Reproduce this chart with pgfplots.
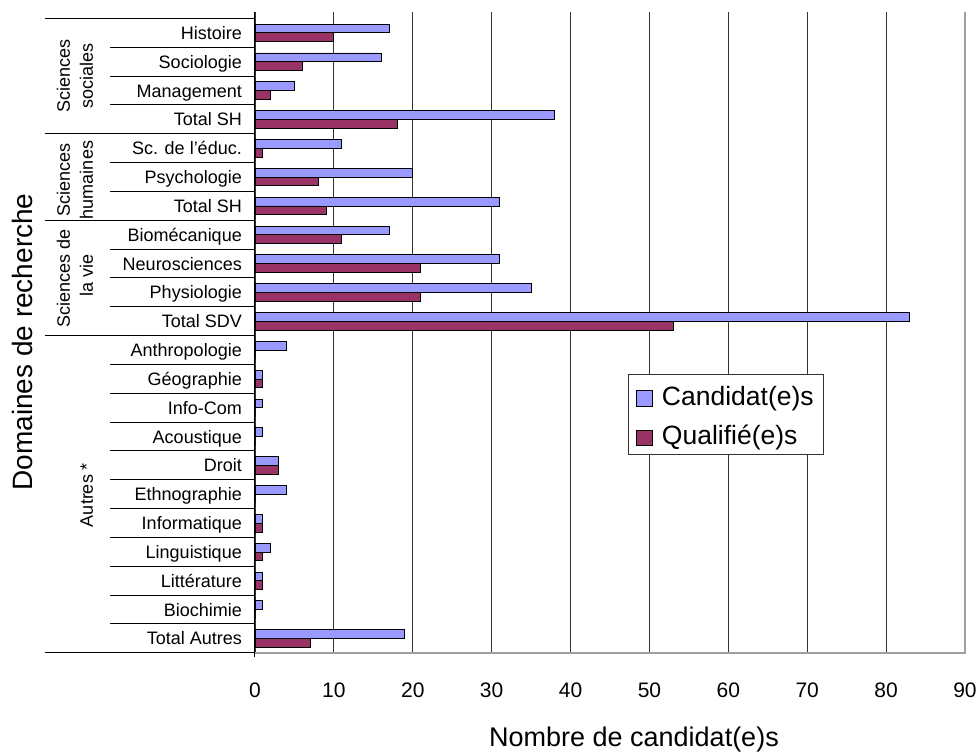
\documentclass[border=0pt]{standalone}
\usepackage{fontspec}
\setmainfont{Liberation Sans}
\usepackage{pgfplots}
\pgfplotsset{compat=1.18}

\definecolor{cand}{HTML}{9999FF}
\definecolor{qual}{HTML}{993366}
\definecolor{gridc}{HTML}{333333}
\definecolor{framec}{HTML}{A0A0A0}

\begin{document}
\begin{tikzpicture}[x=1pt,y=1pt]
\begin{axis}[
  width=710pt, height=641pt, scale only axis,
  xbar, bar width=8.8pt,
  xmin=0, xmax=90, ymin=-0.726, ymax=21.5, y dir=reverse,
  xtick={0,10,...,90},
  ytick={0,...,21},
  yticklabels={Histoire,Sociologie,Management,Total SH,Sc. de l’éduc.,Psychologie,Total SH,
    Biomécanique,Neurosciences,Physiologie,Total SDV,Anthropologie,Géographie,Info-Com,
    Acoustique,Droit,Ethnographie,Informatique,Linguistique,Littérature,Biochimie,Total Autres},
  /pgf/number format/assume math mode=true,
  axis line style={draw=none},
  major tick length=0pt,
  xmajorgrids, major grid style={gridc, line width=0.8pt},
  xticklabel style={font=\fontsize{21}{25}\selectfont, anchor=center, yshift=-37pt},
  yticklabel style={font=\fontsize{18}{21}\selectfont, anchor=base east, inner sep=0pt,
    xshift=-13pt, yshift=-6.4pt},
  legend style={at={(axis cs:47.28,11.826)}, anchor=north west, draw=gridc, line width=0.8pt,
    fill=white, inner xsep=7.7pt, inner ysep=4pt, row sep=7pt, column sep=7.5pt,
    font=\fontsize{26.5}{30}\selectfont,
    nodes={inner sep=2pt, text height=25pt, text depth=3.5pt}},
  legend cell align=left,
  legend image code/.code={\draw[#1, line width=0.8pt] (0pt,-11.5pt) rectangle (15.6pt,4.1pt);},
]
\addplot[fill=cand, draw=black, line width=0.9pt, bar shift=4.4pt] coordinates {
  (17,0) (16,1) (5,2) (38,3) (11,4) (20,5) (31,6) (17,7) (31,8) (35,9) (83,10)
  (4,11) (1,12) (1,13) (1,14) (3,15) (4,16) (1,17) (2,18) (1,19) (1,20) (19,21)};
\addplot[fill=qual, draw=black, line width=0.9pt, bar shift=-4.4pt] coordinates {
  (10,0) (6,1) (2,2) (18,3) (1,4) (8,5) (9,6) (11,7) (21,8) (21,9) (53,10)
  (0,11) (1,12) (0,13) (0,14) (3,15) (0,16) (1,17) (1,18) (1,19) (0,20) (7,21)};
\legend{Candidat(e)s,Qualifié(e)s}
\coordinate (BL) at (axis cs:0,21.5);
\end{axis}
\pgfresetboundingbox
\begin{scope}[shift={(BL)}, xshift=-255pt, yshift=-100pt]
\path[use as bounding box] (0,0) rectangle (978,753);

% frame: gray bottom and right, black left axis
\draw[framec, line width=1.2pt] (255,100) -- (965,100) -- (965,741);
\draw[black, line width=1pt] (255,741) -- (255,96);

% category table lines
\foreach \k in {1,2,3,5,6,8,9,10,12,13,14,15,16,17,18,19,20,21}
  \draw[black, line width=0.9pt] (110,{753-18.3-28.84*\k}) -- (255,{753-18.3-28.84*\k});
\foreach \k in {0,4,7,11,22}
  \draw[black, line width=0.9pt] (45,{753-18.3-28.84*\k}) -- (255,{753-18.3-28.84*\k});

% group labels
\begin{scope}[every node/.style={rotate=90, anchor=base, font=\fontsize{18}{21}\selectfont, inner sep=0pt}]
\node at (70,{753-76}) {Sciences};
\node at (93,{753-76}) {sociales};
\node at (70,{753-180}) {Sciences};
\node at (93,{753-180}) {humaines};
\node at (70,{753-278}) {Sciences de};
\node at (93,{753-275}) {la vie};
\node at (93,{753-495}) {Autres *};
\end{scope}

% axis titles
\node[rotate=90, anchor=base, inner sep=0pt, font=\fontsize{28}{32}\selectfont] at (33,{753-342}) {Domaines de recherche};
\node[anchor=base, inner sep=0pt, font=\fontsize{27}{32}\selectfont] at (634,7) {Nombre de candidat(e)s};
\end{scope}
\end{tikzpicture}
\end{document}
